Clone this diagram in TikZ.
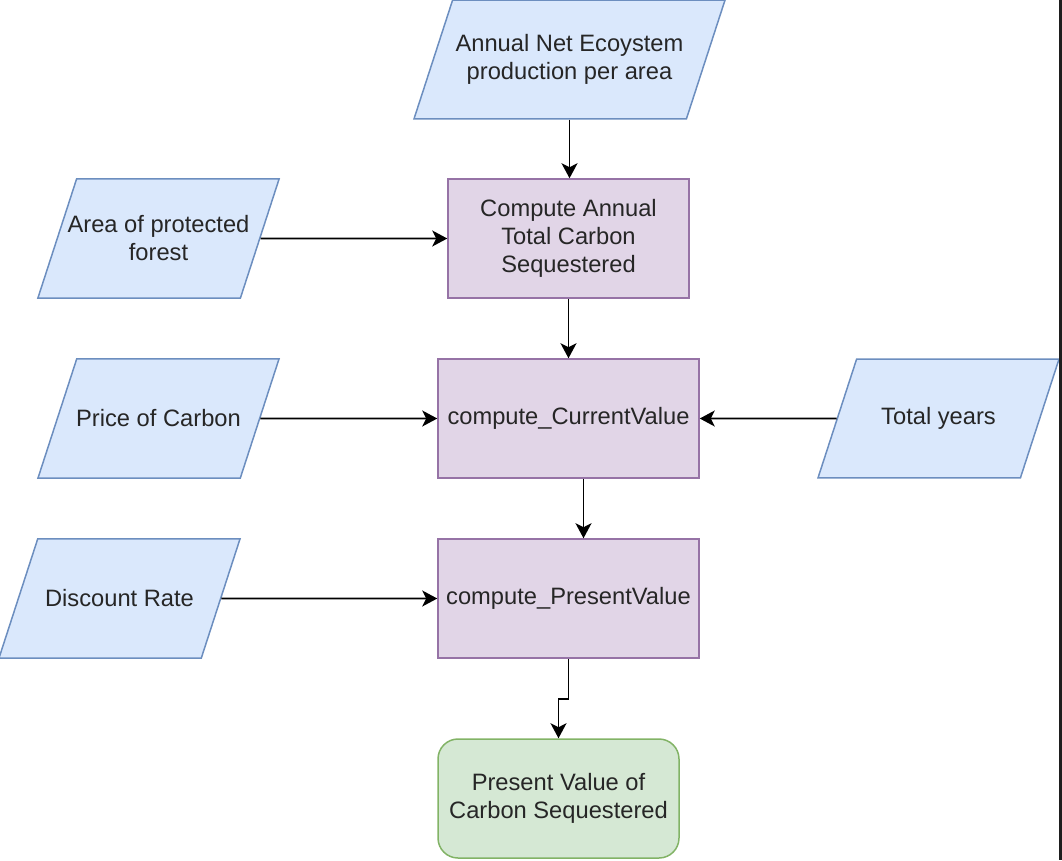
\documentclass[tikz,border=0pt]{standalone}
\usepackage{fontspec}
\setmainfont{Liberation Sans}
\usetikzlibrary{shapes.geometric,arrows.meta}
\definecolor{inputfill}{HTML}{DAE8FC}
\definecolor{inputline}{HTML}{6C8EBF}
\definecolor{procfill}{HTML}{E1D5E7}
\definecolor{procline}{HTML}{9673A6}
\definecolor{resfill}{HTML}{D5E8D4}
\definecolor{resline}{HTML}{82B366}
\definecolor{framedark}{HTML}{1E1E1E}
\begin{document}
\begin{tikzpicture}[x=1pt,y=-1pt,
    every node/.style={font=\fontsize{23.7}{28}\selectfont, text=black!85, align=center},
    inputdata/.style ={trapezium, trapezium left angle=72, trapezium right angle=108,
        trapezium stretches body, draw=inputline, fill=inputfill, line width=1.5pt,
        minimum width=241pt, inner xsep=-1pt, inner ysep=50.85pt},
    process/.style ={rectangle, draw=procline, fill=procfill, line width=1.5pt,
        minimum width=241pt, minimum height=119pt, inner sep=0pt},
    result/.style ={rectangle, rounded corners=20pt, draw=resline, fill=resfill, line width=1.5pt,
        minimum width=241pt, minimum height=119pt, inner sep=0pt},
    flow/.style ={line width=1.6pt, -{Stealth[length=15pt,width=16pt,inset=4pt]}}]
   \useasboundingbox (0,0) rectangle (1062,860);
   % inputs
   \node[inputdata, minimum width=311pt, inner ysep=34.35pt] (netprod) at (569.5,59.5) {Annual Net Ecoystem\\production per area};
   \node[inputdata, inner xsep=-9pt, inner ysep=36.85pt] (area) at (158.5,238.5) {Area of protected\\forest};
   \node[inputdata] (price)    at (158.5,418.5) {Price of Carbon};
   \node[inputdata, inner ysep=48.35pt] (years) at (938.5,418.5) {Total years};
   \node[inputdata] (discount) at (119.5,598.5) {Discount Rate};
   % processes
   \node[process] (annual)  at (568.5,238.5) {Compute Annual\\Total Carbon\\Sequestered};
   \node[process, minimum width=261pt] (current) at (568.5,418.5) {compute\_CurrentValue};
   \node[process, minimum width=261pt] (present) at (568.5,598.5) {compute\_PresentValue};
   \node[result] (presval) at (558.5,798.5) {Present Value of\\Carbon Sequestered};
   % connectors
   \draw[flow] (netprod.south) -- (netprod.south |- annual.north);
   \draw[flow] (area) -- (annual);
   \draw[flow] (annual) -- (current);
   \draw[flow] (price) -- (current);
   \draw[flow] (years) -- (current);
   \draw[flow] ([xshift=15pt]current.south) -- ([xshift=15pt]present.north);
   \draw[flow] (discount) -- (present);
   \draw[flow] (present.south) -- ++(0,40) -| (presval.north);
   % screen edge
   \fill[framedark] (1059,0) rectangle (1062,860);
\end{tikzpicture}
\end{document}
